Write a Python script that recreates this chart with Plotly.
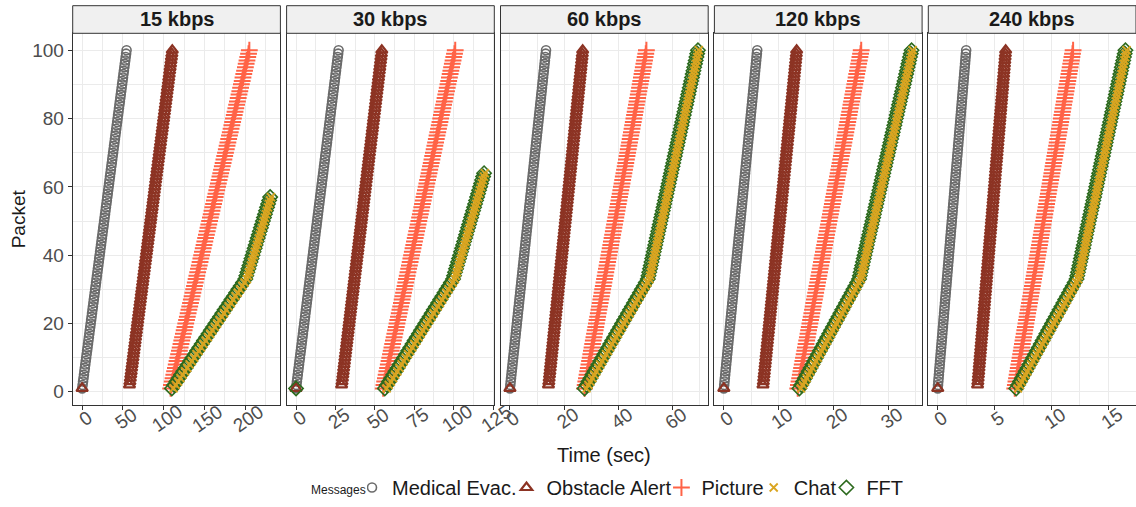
import numpy as np
import plotly.graph_objects as go
from plotly.subplots import make_subplots

# ---------------------------------------------------------------- data
bandwidths = ["15 kbps", "30 kbps", "60 kbps", "120 kbps", "240 kbps"]
messages = ["Medical Evac.", "Obstacle Alert", "Picture", "Chat", "FFT"]

# Medical Evac.: packets 1..100, delivery time (sec) of first / last packet
medical_first_t = [0.0, 0.0, 0.0, 0.0, 0.0]
medical_last_t = [54.5, 27.0, 13.3, 6.1, 2.5]
medical_last_packet = [100, 100, 100, 100, 100]

# Obstacle Alert: packet 1 goes out at t = 0, packets 2..100 follow the evacuation
obstacle_initial_t = [0.0, 0.0, 0.0, 0.0, 0.0]
obstacle_first_t = [58.0, 28.9, 14.2, 7.15, 3.5]
obstacle_last_t = [110.5, 54.4, 26.8, 13.3, 5.97]
obstacle_last_packet = [100, 100, 100, 100, 100]

# Picture: packets 1..100
picture_first_t = [108.5, 55.3, 27.5, 13.5, 6.77]
picture_last_t = [205.0, 101.0, 50.3, 25.1, 11.9]
picture_last_packet = [100, 100, 100, 100, 100]

# Chat / FFT share the link with Picture up to packet 33, then speed up
shared_until_packet = [33, 33, 33, 33, 33]
chat_first_t = [112.0, 57.5, 28.2, 14.1, 7.05]
chat_shared_end_t = [202.0, 100.8, 51.4, 25.0, 12.35]
chat_last_t = [231.5, 119.8, 69.6, 34.5, 16.6]
chat_last_packet = [57, 64, 100, 100, 100]

fft_initial_t = [None, 0.0, None, None, None]
fft_first_t = [110.0, 56.3, 27.5, 13.8, 6.9]
fft_shared_end_t = [200.0, 99.6, 50.8, 24.7, 12.2]
fft_last_t = [230.5, 119.3, 69.3, 34.3, 16.5]
fft_last_packet = [57, 64, 100, 100, 100]

x_tick_step = [50, 25, 20, 10, 5]
y_ticks = [0, 20, 40, 60, 80, 100]

# ---------------------------------------------------------------- style
colors = {"Medical Evac.": "#6b6b6b", "Obstacle Alert": "#8c3323",
          "Picture": "#ff6347", "Chat": "#daa520", "FFT": "#2d6a1e"}
symbols = {"Medical Evac.": "circle-open", "Obstacle Alert": "triangle-up-open",
           "Picture": "cross-thin-open", "Chat": "x-thin-open", "FFT": "diamond-open"}
sizes = {"Medical Evac.": 9, "Obstacle Alert": 10, "Picture": 12, "Chat": 8, "FFT": 11}
widths = {"Medical Evac.": 1.6, "Obstacle Alert": 2.2, "Picture": 2.0, "Chat": 1.8, "FFT": 1.6}
# Chat is drawn over the FFT diamonds
draw_order = ["Medical Evac.", "Obstacle Alert", "Picture", "FFT", "Chat"]

FONT = "Liberation Sans"
W, H = 1136, 507
panel_left0, panel_pitch, panel_w = 72.7, 213.9, 207.7
plot_top, plot_bottom, strip_top = 33.3, 405.3, 5.7


def stream(packets, times):
    """Packets delivered back-to-back between successive delivery milestones."""
    p = np.arange(packets[0], packets[-1] + 1)
    return p, np.interp(p, packets, times)


def panel_series(i):
    out = {}
    p, t = stream([1, medical_last_packet[i]], [medical_first_t[i], medical_last_t[i]])
    out["Medical Evac."] = (t, p)

    p, t = stream([2, obstacle_last_packet[i]], [obstacle_first_t[i], obstacle_last_t[i]])
    out["Obstacle Alert"] = (np.r_[obstacle_initial_t[i], t], np.r_[1, p])

    p, t = stream([1, picture_last_packet[i]], [picture_first_t[i], picture_last_t[i]])
    out["Picture"] = (t, p)

    p, t = stream([1, shared_until_packet[i], chat_last_packet[i]],
                  [chat_first_t[i], chat_shared_end_t[i], chat_last_t[i]])
    out["Chat"] = (t, p)

    p, t = stream([1, shared_until_packet[i], fft_last_packet[i]],
                  [fft_first_t[i], fft_shared_end_t[i], fft_last_t[i]])
    if fft_initial_t[i] is not None:
        t, p = np.r_[fft_initial_t[i], t], np.r_[1, p]
    out["FFT"] = (t, p)
    return out


fig = make_subplots(rows=1, cols=5)

all_packets = []
for i, bw in enumerate(bandwidths):
    series = panel_series(i)
    times = np.concatenate([series[m][0] for m in messages])
    all_packets.append(np.concatenate([series[m][1] for m in messages]))
    for m in draw_order:
        t, p = series[m]
        fig.add_trace(go.Scatter(
            x=t, y=p, mode="markers", name=m, legendgroup=m, showlegend=(i == 0),
            legendrank=messages.index(m) + 1,
            marker=dict(symbol=symbols[m], size=sizes[m], color=colors[m],
                        line=dict(width=widths[m], color=colors[m])),
            hoverinfo="skip"), row=1, col=i + 1)

    lo, hi = times.min(), times.max()
    pad = 0.05 * (hi - lo)
    xr = [lo - pad, hi + pad]
    left = panel_left0 + i * panel_pitch
    step = x_tick_step[i]
    fig.update_xaxes(
        row=1, col=i + 1, domain=[left / W, (left + panel_w) / W], range=xr,
        tick0=0, dtick=step, showticklabels=False, ticks="outside", ticklen=4,
        tickcolor="#333333", showgrid=True, gridcolor="#ebebeb", gridwidth=1.2,
        minor=dict(dtick=step / 2, tick0=0, showgrid=True, gridcolor="#ebebeb", gridwidth=0.6),
        showline=True, mirror=True, linecolor="#333333", linewidth=1, zeroline=False)

    xref = "x" if i == 0 else f"x{i + 1}"
    v = 0
    while v <= xr[1]:
        fig.add_annotation(x=v, xref=xref, y=1 - 418 / H, yref="paper", text=str(v),
                           textangle=-35, showarrow=False, xshift=3,
                           xanchor="center", yanchor="middle",
                           font=dict(family=FONT, size=19, color="#4d4d4d"))
        v += step

    # facet strip
    fig.add_shape(type="rect", xref="paper", yref="paper",
                  x0=left / W, x1=(left + panel_w) / W,
                  y0=1 - plot_top / H, y1=1 - strip_top / H,
                  fillcolor="#f0f0f0", line=dict(color="#333333", width=1))
    fig.add_annotation(x=(left + panel_w / 2) / W, y=1 - (plot_top + strip_top) / 2 / H,
                       xref="paper", yref="paper", text=bw, showarrow=False,
                       xanchor="center", yanchor="middle",
                       font=dict(family=FONT, size=20, color="#1a1a1a", weight="bold"))

pk = np.concatenate(all_packets)
pad = 0.05 * (pk.max() - pk.min())
yr = [pk.min() - pad, pk.max() + pad]
for i in range(5):
    fig.update_yaxes(
        row=1, col=i + 1, domain=[1 - plot_bottom / H, 1 - plot_top / H], range=yr,
        tickvals=y_ticks, showticklabels=(i == 0), ticks="outside" if i == 0 else "",
        ticklen=4, tickcolor="#333333",
        tickfont=dict(family=FONT, size=19, color="#4d4d4d"),
        showgrid=True, gridcolor="#ebebeb", gridwidth=1.2,
        minor=dict(dtick=10, tick0=0, showgrid=True, gridcolor="#ebebeb", gridwidth=0.6),
        showline=True, mirror=True, linecolor="#333333", linewidth=1, zeroline=False)

# axis titles
fig.add_annotation(x=(panel_left0 + W) / 2 / W, y=1 - 455 / H, xref="paper", yref="paper",
                   text="Time (sec)", showarrow=False, xanchor="center", yanchor="middle",
                   font=dict(family=FONT, size=20, color="#1a1a1a"))
fig.add_annotation(x=18 / W, y=1 - (plot_top + plot_bottom) / 2 / H, xref="paper", yref="paper",
                   text="Packet", textangle=-90, showarrow=False, xanchor="center",
                   yanchor="middle", font=dict(family=FONT, size=19, color="#1a1a1a"))

# legend title sits on the same line as the keys
fig.add_annotation(x=308.7 / W, y=1 - 490 / H, xref="paper", yref="paper",
                   text="Messages", showarrow=False, xanchor="left", yanchor="middle",
                   font=dict(family=FONT, size=12, color="#1a1a1a"))

fig.update_layout(
    width=W, height=H, margin=dict(l=0, r=0, t=0, b=0),
    paper_bgcolor="white", plot_bgcolor="white",
    font=dict(family=FONT, color="#1a1a1a"),
    legend=dict(orientation="h", x=367 / W, xanchor="left", y=0,
                yanchor="bottom", traceorder="normal", indentation=-15,
                font=dict(family=FONT, size=20, color="#1a1a1a"),
                bgcolor="rgba(0,0,0,0)"),
)

fig.write_html("out.html")
